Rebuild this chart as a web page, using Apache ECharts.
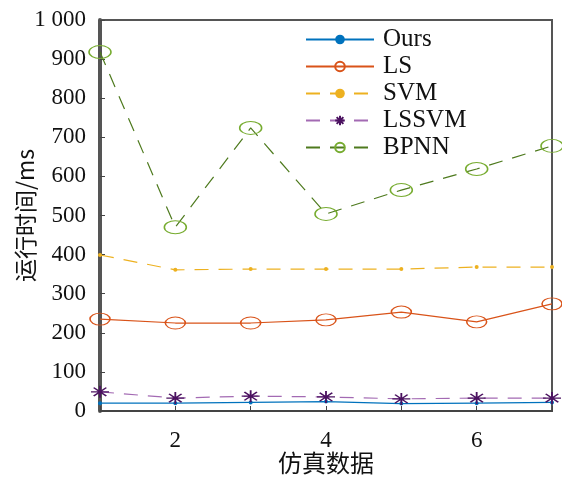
<!DOCTYPE html>
<html>
<head>
<meta charset="utf-8">
<script src="https://cdn.jsdelivr.net/npm/echarts@6/dist/echarts.min.js"></script>
<style>
  html, body { margin: 0; padding: 0; background: #fff; }
  #chart { width: 562px; height: 479px; }
</style>
</head>
<body>
<div id="chart"></div>
<script>
  // 仿真数据序号
  const xData = [1, 2, 3, 4, 5, 6, 7];
  // 各算法运行时间 (ms)
  const ours = [20, 20, 22, 24, 19, 20, 22];
  const ls = [235, 225, 225, 233, 253, 228, 274];
  const svm = [399, 361, 363, 363, 363, 368, 368];
  const lssvm = [49, 33, 38, 36, 31, 33, 33];
  const bpnn = [918, 470, 724, 504, 565, 619, 678];

  const serif = '"Liberation Serif", "Times New Roman", serif';
  const cjk = '"Noto Sans CJK SC", sans-serif';
  const star = 'path://M0,-10L0,10M-10,0L10,0M-7,-7L7,7M-7,7L7,-7';

  const pair = arr => xData.map((x, i) => [x, arr[i]]);

  const chart = echarts.init(document.getElementById('chart'));
  chart.setOption({
    animation: false,
    backgroundColor: '#fff',
    grid: {
      left: 100, right: 10, top: 20, bottom: 68,
      outerBoundsMode: 'none', containLabel: false,
      show: true, borderColor: '#555', borderWidth: 2
    },
    legend: {
      left: 300, top: 22, orient: 'vertical', itemGap: 2,
      itemWidth: 68, itemHeight: 12,
      textStyle: { fontFamily: serif, fontSize: 25, color: '#111', padding: [0, 0, 0, 4] },
      data: ['Ours', 'LS', 'SVM', 'LSSVM', 'BPNN']
    },
    xAxis: {
      type: 'value', min: 1, max: 7, interval: 1,
      name: '仿真数据', nameLocation: 'middle', nameGap: 40, nameMoveOverlap: false,
      nameTextStyle: { fontFamily: cjk, fontSize: 24, color: '#111' },
      axisLine: { lineStyle: { color: '#444', width: 2 } },
      axisTick: { inside: true, length: 5, lineStyle: { color: '#444' } },
      axisLabel: {
        fontFamily: serif, fontSize: 23, color: '#111', margin: 18,
        formatter: v => (v % 2 === 0 ? String(v) : '')
      },
      splitLine: { show: false }
    },
    yAxis: {
      type: 'value', min: 0, max: 1000, interval: 100,
      name: '运行时间/ms', nameLocation: 'middle', nameGap: 63, nameRotate: 90, nameMoveOverlap: false,
      nameTextStyle: { fontFamily: cjk, fontSize: 23, color: '#111' },
      axisLine: { lineStyle: { color: '#555', width: 4 } },
      axisTick: { inside: true, length: 5, lineStyle: { color: '#444' } },
      axisLabel: {
        fontFamily: serif, fontSize: 23, color: '#111', margin: 14,
        formatter: v => (v === 1000 ? '1 000' : String(v))
      },
      splitLine: { show: false }
    },
    series: [
      {
        name: 'Ours', type: 'line', data: pair(ours),
        symbol: 'circle', symbolSize: 4,
        lineStyle: { color: '#0072BD', width: 1.2 },
        itemStyle: { color: '#0072BD' }
      },
      {
        name: 'LS', type: 'line', data: pair(ls),
        symbol: 'circle', symbolSize: [20, 12],
        lineStyle: { color: '#D95319', width: 1.2 },
        itemStyle: { color: 'rgba(255,255,255,0)', borderColor: '#D95319', borderWidth: 1.2 }
      },
      {
        name: 'SVM', type: 'line', data: pair(svm),
        symbol: 'circle', symbolSize: 4,
        lineStyle: { color: '#EDB120', width: 1.2, type: [14, 10] },
        itemStyle: { color: '#EDB120' }
      },
      {
        name: 'LSSVM', type: 'line', data: pair(lssvm),
        symbol: star, symbolSize: [18, 12],
        lineStyle: { color: '#A36AB3', width: 1.2, type: [14, 10] },
        itemStyle: { color: '#4B1260', borderColor: '#4B1260', borderWidth: 1.5 }
      },
      {
        name: 'BPNN', type: 'line', data: pair(bpnn),
        symbol: 'circle', symbolSize: [22, 13],
        lineStyle: { color: '#4E7A1E', width: 1.2, type: [14, 10] },
        itemStyle: { color: 'rgba(255,255,255,0)', borderColor: '#77AC30', borderWidth: 1.2 }
      }
    ]
  });
</script>
</body>
</html>
